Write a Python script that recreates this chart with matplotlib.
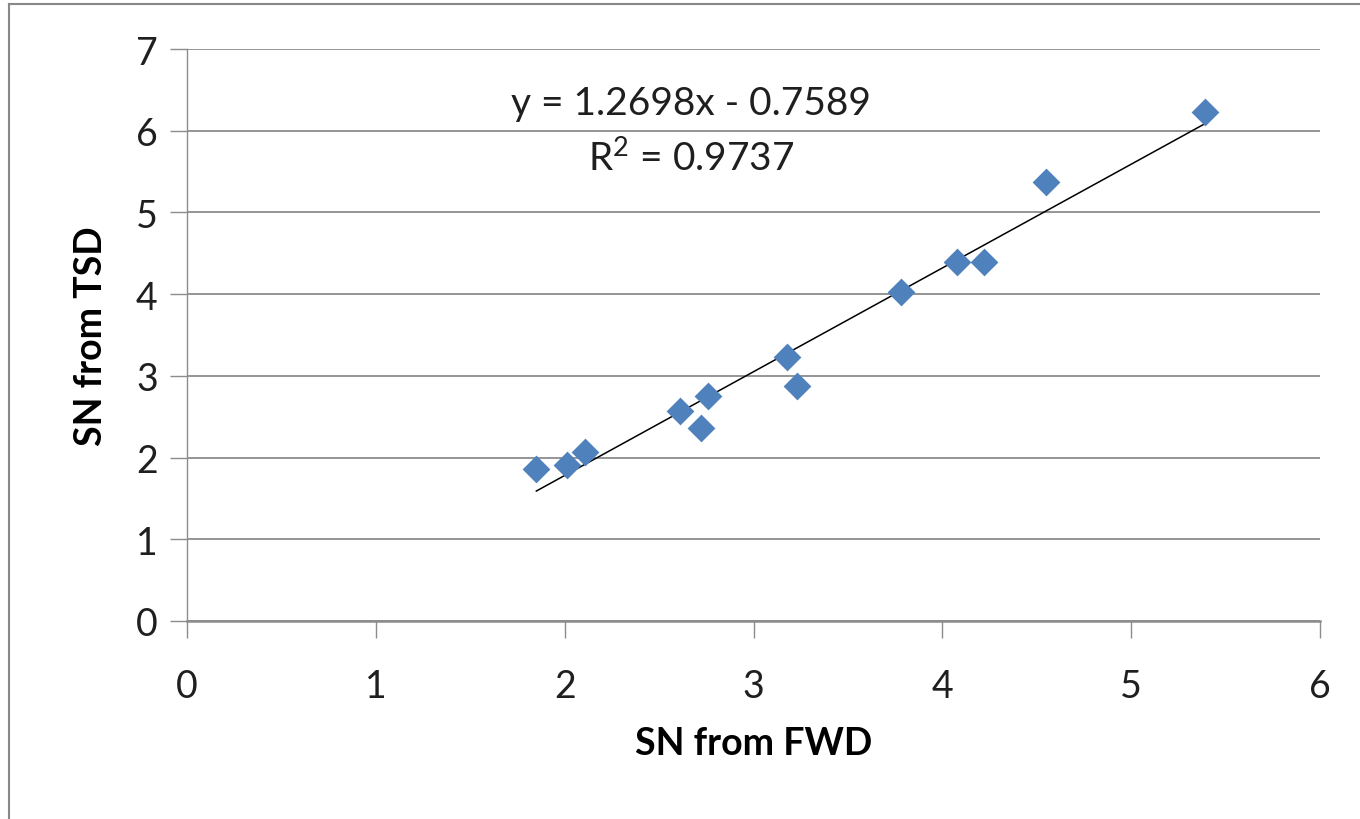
import numpy as np
import matplotlib.pyplot as plt
from matplotlib.lines import Line2D

# =========================
# Data
# =========================
sn_fwd = [1.85, 2.01, 2.11, 2.61, 2.72, 2.76, 3.18, 3.23, 3.78, 4.08, 4.22, 4.55, 5.39]
sn_tsd = [1.86, 1.91, 2.07, 2.57, 2.36, 2.75, 3.23, 2.88, 4.03, 4.39, 4.39, 5.37, 6.23]
slope = 1.2698
intercept = -0.7589
r2 = 0.9737

x_ticks = [0, 1, 2, 3, 4, 5, 6]
y_ticks = [0, 1, 2, 3, 4, 5, 6, 7]

# =========================
# Plot style
# =========================
plt.rcParams['font.family'] = ['Lato', 'DejaVu Sans']
plt.rcParams['mathtext.fontset'] = 'custom'
plt.rcParams['mathtext.rm'] = 'Lato'
tick_fontsize = 27
label_fontsize = 27
text_fontsize = 28
grid_color = "#8c8c8c"
marker_color = "#4F81BD"
text_color = "#1f1f1f"

fig = plt.figure(figsize=(13.6, 8.2), dpi=100)
ax = fig.add_axes([0.1375, 0.2415, 0.8331, 0.6975])

ax.scatter(sn_fwd, sn_tsd, marker="D", s=200, color=marker_color, zorder=3, linewidths=0)

# linear trendline over the data range
xs = np.array([min(sn_fwd), max(sn_fwd)])
ax.plot(xs, slope * xs + intercept, color="black", linewidth=1.1, zorder=2)

ax.set_xlim(0, 6)
ax.set_ylim(0, 7)
ax.set_xticks(x_ticks)
ax.set_yticks(y_ticks)
ax.yaxis.grid(True, color=grid_color, linewidth=1.3)
ax.set_axisbelow(True)

for side in ["top", "right"]:
    ax.spines[side].set_visible(False)
ax.spines["left"].set_color(grid_color)
ax.spines["left"].set_linewidth(1.0)
ax.spines["bottom"].set_color(grid_color)
ax.spines["bottom"].set_linewidth(1.8)

ax.tick_params(axis="both", direction="out", length=12, width=1.0, color=grid_color,
               labelsize=tick_fontsize, labelcolor=text_color)
ax.tick_params(axis="y", pad=9)
ax.tick_params(axis="x", pad=22)

ax.set_xlabel("SN from FWD", fontsize=label_fontsize, fontweight="bold", labelpad=16)
ax.set_ylabel("SN from TSD", fontsize=label_fontsize, fontweight="bold", labelpad=20)

ax.text(2.67, 6.34, f"y = {slope}x - {abs(intercept)}", fontsize=text_fontsize,
        color=text_color, ha="center", va="center")
ax.text(2.67, 5.66, f"R$^\\mathrm{{2}}$ = {r2}", fontsize=text_fontsize,
        color=text_color, ha="center", va="center")

# cropped chart border (left and top)
fig.add_artist(Line2D([9 / 1360, 9 / 1360], [0, 1 - 5 / 820], transform=fig.transFigure,
                      color="#888888", linewidth=1.5))
fig.add_artist(Line2D([9 / 1360, 1], [1 - 5 / 820, 1 - 5 / 820], transform=fig.transFigure,
                      color="#888888", linewidth=1.5))

fig.savefig("out.png", dpi=100)
